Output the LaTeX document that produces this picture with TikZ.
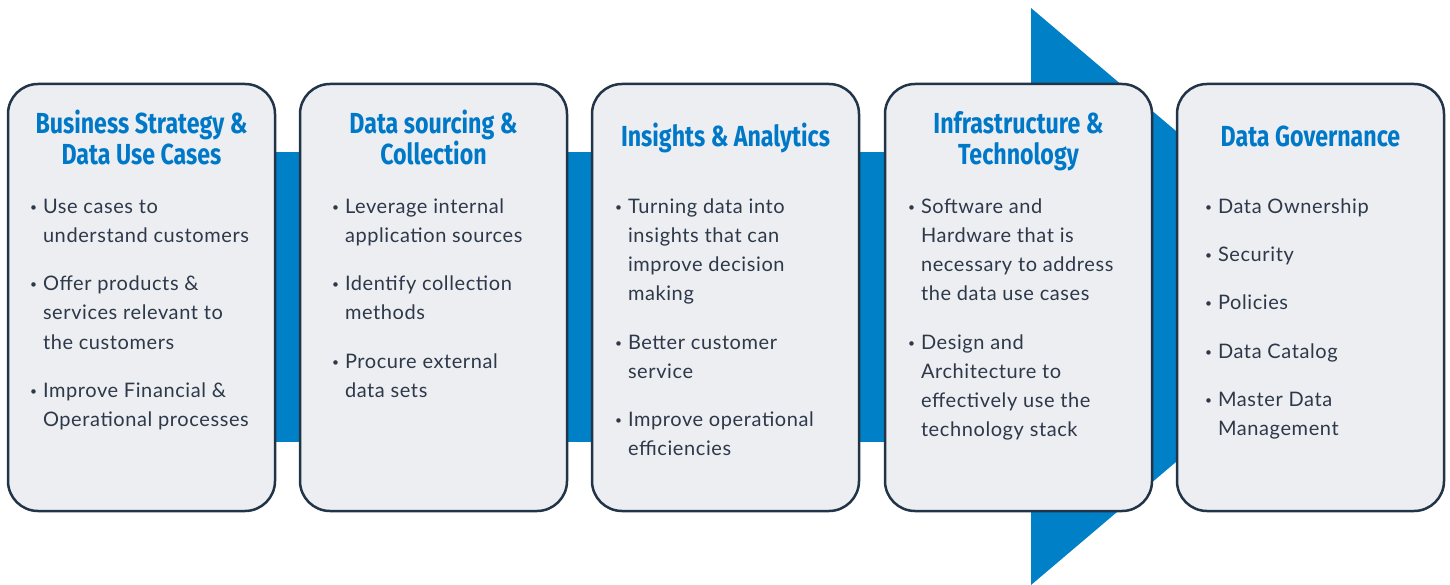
\documentclass[tikz,border=0pt]{standalone}
\usepackage{fontspec}
\setmainfont{Lato}[LetterSpace=3]
\newfontfamily\headfont[FakeStretch=0.8]{Fira Sans}
\usetikzlibrary{positioning}

% small bullet and hanging indent for the card lists
\newcommand{\bul}{\makebox[11pt][l]{\hspace*{-2pt}\raisebox{2pt}{\scalebox{0.6}{\textbullet}}}}
\newcommand{\ind}{\hspace*{11pt}}
\newcommand{\gap}{\\[19.2pt]}

\begin{document}
\begin{tikzpicture}[x=1pt,y=-1pt]
\definecolor{fillColor}{RGB}{255,255,255}
\definecolor{barColor}{RGB}{0,128,198}
\definecolor{cardColor}{RGB}{236,238,242}
\definecolor{edgeColor}{RGB}{33,52,72}
\definecolor{headColor}{RGB}{0,120,200}
\definecolor{textColor}{RGB}{45,56,72}
\tikzset{
  card/.style={draw=edgeColor,fill=cardColor,line width=2.5pt,rounded corners=30pt,
    minimum width=267pt,minimum height=427pt,inner sep=0pt,outer sep=0pt},
  head/.style={text=headColor,font=\headfont\bfseries\fontsize{29}{31}\selectfont,
    align=center,anchor=base,inner sep=0pt,outer sep=0pt},
  body/.style={text=textColor,font=\fontsize{20}{29.2}\selectfont,
    align=left,anchor=base west,inner sep=0pt,outer sep=0pt}
}
\path[use as bounding box,fill=fillColor] (0,0) rectangle (1450,585);

% band and arrow behind the cards
\path[fill=barColor] (270,152) rectangle (1185,442);
\path[fill=barColor] (1031,8) -- (1371,296.5) -- (1031,585) -- cycle;

\node[card] (c1) at ( 141.5,297.5) {};
\node[card] (c2) at ( 433.5,297.5) {};
\node[card] (c3) at ( 725.5,297.5) {};
\node[card] (c4) at (1018.5,297.5) {};
\node[card] (c5) at (1310.5,297.5) {};

% titles: anchor is the baseline of the last line
\node[head] (h1) at ( 141.5,164.5) {Business Strategy \&\\Data Use Cases};
\node[head] (h2) at ( 433.5,164.5) {Data sourcing \&\\Collection};
\node[head] (h3) at ( 725.5,147) {Insights \& Analytics};
\node[head] (h4) at (1018.5,164.5) {Infrastructure \&\\Technology};
\node[head] (h5) at (1310.5,147) {Data Governance};

% lists: first baseline at 213, anchor on the last one
\node[body] (b1) at (  32,426.6) {\bul Use cases to\\ \ind understand customers\gap
  \bul Offer products \&\\ \ind services relevant to\\ \ind the customers\gap
  \bul Improve Financial \&\\ \ind Operational processes};

\node[body] (b2) at ( 334,397.4) {\bul Leverage internal\\ \ind application sources\gap
  \bul Identify collection\\ \ind methods\gap
  \bul Procure external\\ \ind data sets};

\node[body] (b3) at ( 617,455.8) {\bul Turning data into\\ \ind insights that can\\ \ind improve decision\\ \ind making\gap
  \bul Better customer\\ \ind service\gap
  \bul Improve operational\\ \ind efficiencies};

\node[body] (b4) at ( 910,436.6) {\bul Software and\\ \ind Hardware that is\\ \ind necessary to address\\ \ind the data use cases\gap
  \bul Design and\\ \ind Architecture to\\ \ind effectively use the\\ \ind technology stack};

\node[body] (b5) at (1207,435.8) {\bul Data Ownership\gap
  \bul Security\gap
  \bul Policies\gap
  \bul Data Catalog\gap
  \bul Master Data\\ \ind Management};
\end{tikzpicture}
\end{document}
